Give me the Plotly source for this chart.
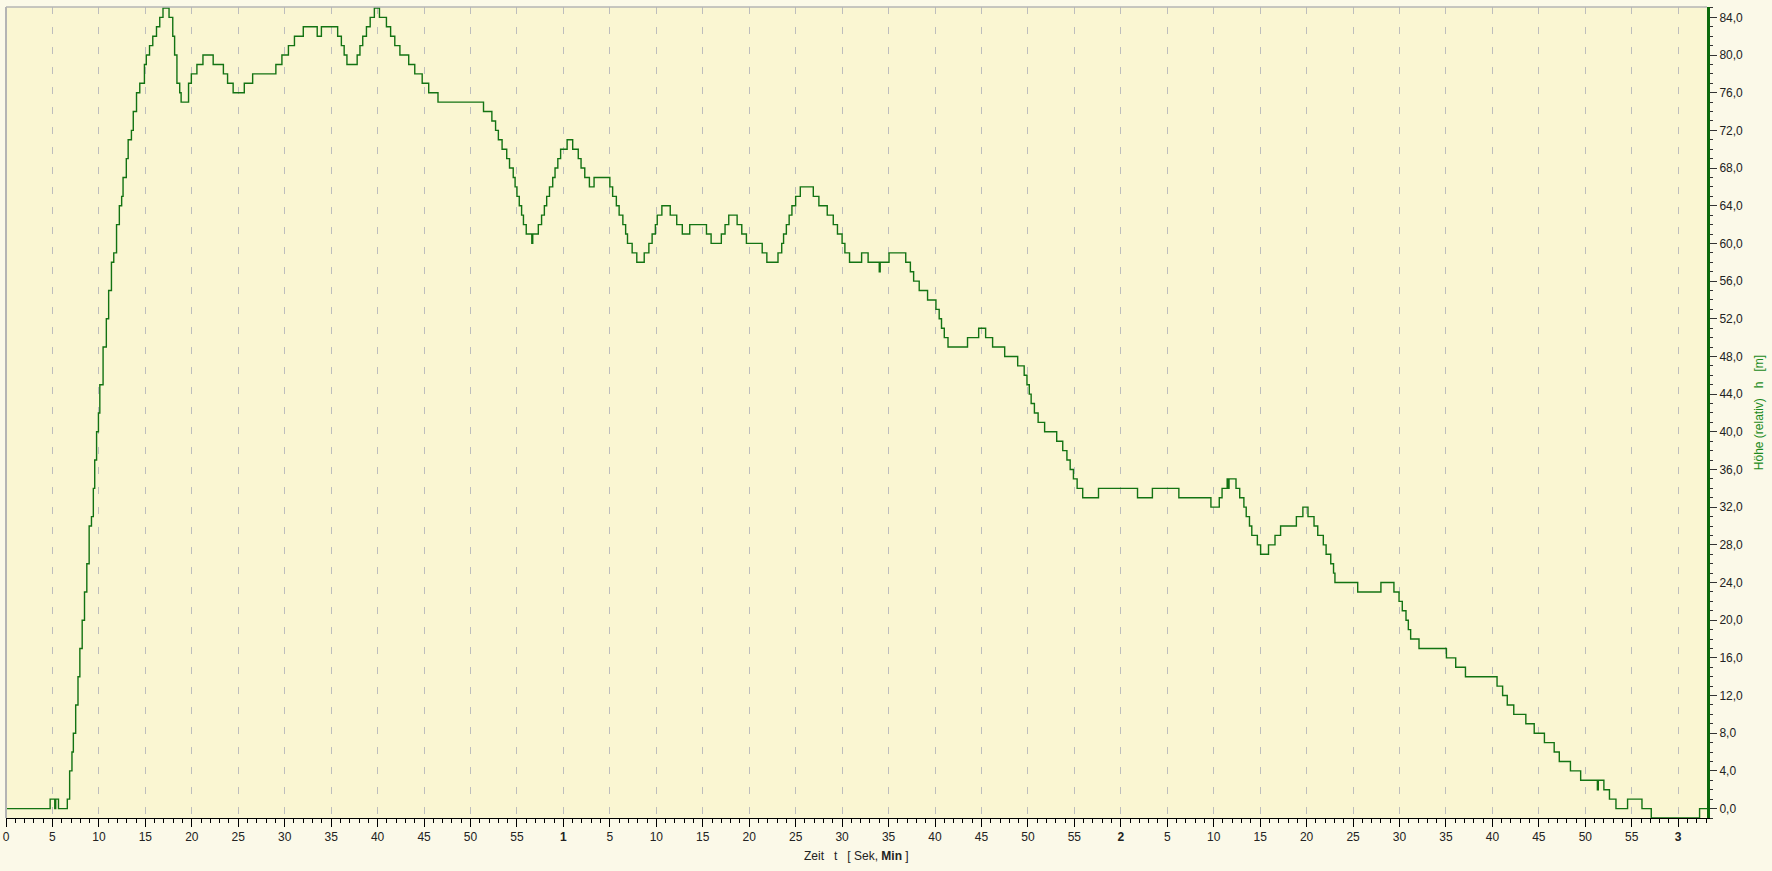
import plotly.graph_objects as go

# time (s) at which the height changes, and the new height (m)
t_sec = [0, 4.75, 5.25, 5.35, 5.65, 6.6, 6.85, 7.1, 7.25, 7.5, 7.75, 7.95, 8.2, 8.45, 8.7, 8.95,
         9.2, 9.4, 9.55, 9.75, 9.95, 10.1, 10.45, 10.8, 11.05, 11.35, 11.6, 11.9, 12.2, 12.45,
         12.6, 12.95, 13.15, 13.5, 13.7, 14.05, 14.4, 14.9, 15.1, 15.45, 15.8, 16.2, 16.55, 16.9,
         17.55, 17.95, 18.15, 18.4, 18.7, 18.85, 19.65, 19.95, 20.55, 21.2, 22.3, 23.4, 23.85,
         24.45, 25.65, 26.55, 29.05, 29.7, 30.4, 31.05, 32.0, 33.5, 33.95, 35.7, 36.1, 36.4,
         36.7, 37.8, 38.1, 38.4, 38.8, 39.2, 39.65, 40.2, 40.95, 41.4, 41.85, 42.4, 43.35, 44.0,
         44.8, 45.5, 46.5, 51.4, 52.3, 52.7, 53.0, 53.4, 53.9, 54.2, 54.6, 54.8, 55.0, 55.25,
         55.5, 55.7, 56.0, 56.6, 56.7, 57.3, 57.65, 57.95, 58.2, 58.5, 58.85, 59.1, 59.4, 59.7,
         60.4, 61.0, 61.6, 61.9, 62.3, 62.8, 63.3, 65.0, 65.3, 65.7, 66.0, 66.4, 66.7, 66.9,
         67.4, 67.9, 68.7, 69.2, 69.55, 69.9, 70.1, 70.6, 71.5, 72.2, 72.8, 73.6, 75.4, 75.9,
         77.0, 77.4, 77.8, 78.7, 79.2, 79.7, 81.4, 81.9, 83.1, 83.5, 83.7, 84.0, 84.3, 84.6,
         85.0, 85.5, 86.9, 87.5, 88.4, 89.05, 89.5, 90.0, 90.3, 90.8, 92.1, 92.8, 94.0, 94.1,
         95.05, 96.85, 97.35, 97.7, 98.3, 99.2, 100.1, 100.45, 100.7, 101.0, 101.4, 103.5,
         104.7, 105.45, 106.2, 107.5, 108.9, 109.6, 109.9, 110.15, 110.35, 110.7, 111.1, 111.8,
         113.1, 113.75, 114.2, 114.55, 114.9, 115.3, 115.9, 117.6, 121.8, 123.4, 126.25, 129.7,
         130.6, 130.9, 131.45, 131.55, 131.65, 132.4, 132.8, 133.25, 133.5, 133.85, 134.1,
         134.7, 135.05, 135.9, 136.6, 137.2, 138.9, 139.6, 140.15, 140.8, 141.2, 141.8, 142.1,
         142.6, 142.9, 143.05, 145.5, 148.0, 149.4, 149.95, 150.3, 150.7, 150.95, 151.2, 152.1,
         155.05, 156.05, 157.1, 160.5, 161.1, 161.6, 162.3, 163.6, 164.5, 165.6, 166.65, 167.2,
         168.4, 169.5, 171.3, 171.4, 172.0, 172.6, 173.3, 174.55, 176.1, 177.1, 182.3, 183.1]
h_m = [0, 1, 0, 1, 0, 1, 4, 6, 8, 11, 14, 17, 20, 23, 26, 30,
       31, 34, 37, 40, 42, 45, 49, 52, 55, 58, 59, 62, 64, 65,
       67, 69, 71, 72, 74, 76, 77, 79, 80, 81, 82, 83, 84, 85,
       84, 82, 80, 77, 76, 75, 77, 78, 79, 80, 79, 78, 77,
       76, 77, 78, 79, 80, 81, 82, 83, 82, 83, 82, 81, 80,
       79, 80, 81, 82, 83, 84, 85, 84, 83, 82, 81, 80, 79, 78,
       77, 76, 75, 74, 73, 72, 71, 70, 69, 68, 67, 66, 65, 64,
       63, 62, 61, 60, 61, 62, 63, 64, 65, 66, 67, 68, 69, 70,
       71, 70, 69, 68, 67, 66, 67, 66, 65, 64, 63, 62, 61, 60,
       59, 58, 59, 60, 61, 62, 63, 64, 63, 62, 61, 62, 61, 60,
       61, 62, 63, 62, 61, 60, 59, 58, 59, 60, 61, 62, 63, 64,
       65, 66, 65, 64, 63, 62, 61, 60, 59, 58, 59, 58, 57, 58,
       59, 58, 57, 56, 55, 54, 53, 52, 51, 50, 49, 50,
       51, 50, 49, 48, 47, 46, 45, 44, 43, 42, 41, 40,
       39, 38, 37, 36, 35, 34, 33, 34, 33, 34, 33, 32,
       33, 34, 35, 34, 35, 34, 33, 32, 31, 30, 29,
       28, 27, 28, 29, 30, 31, 32, 31, 30, 29, 28, 27,
       26, 25, 24, 23, 24, 23, 22, 21, 20, 19, 18, 17,
       16, 15, 14, 13, 12, 11, 10, 9, 8, 7, 6, 5,
       4, 3, 2, 3, 2, 1, 0, 1, 0, -1, 0, 0]

x_tickvals = list(range(0, 181, 5))
x_ticktext = ["<b>%d</b>" % (v // 60) if v % 60 == 0 and v > 0 else str(v % 60) for v in x_tickvals]
y_tickvals = list(range(0, 85, 4))

fig = go.Figure()
fig.add_trace(go.Scatter(x=t_sec, y=h_m, mode="lines", line=dict(color="#137313", width=1.4, shape="hv"),
                         hoverinfo="skip", showlegend=False))

fig.update_layout(
    width=1772, height=871,
    margin=dict(l=6, r=65, t=7, b=53, autoexpand=False),
    paper_bgcolor="#FBF9E8",
    plot_bgcolor="#FAF6D2",
    separators=",.",
    font=dict(family="Liberation Sans, Arial, sans-serif", size=12, color="#222222"),
    xaxis=dict(
        range=[0, 183.1], tickmode="array", tickvals=x_tickvals, ticktext=x_ticktext,
        showgrid=True, gridcolor="#BDBDBD", gridwidth=1, griddash="7px,13px",
        showline=True, linecolor="#000000", linewidth=1, layer="below traces",
        ticks="outside", ticklen=8, tickcolor="#000000", tickwidth=1,
        minor=dict(tickmode="linear", tick0=0, dtick=1, ticks="outside", ticklen=4,
                   tickcolor="#000000", showgrid=False),
        zeroline=False, fixedrange=True, automargin=False,
        tickfont=dict(size=12, color="#222222"),
    ),
    yaxis=dict(
        range=[-1.0, 85.1], side="right", tickmode="array", tickvals=y_tickvals,
        tickformat=".1f", showgrid=False, zeroline=False, automargin=False, fixedrange=True,
        showline=True, linecolor="#0B6B0B", linewidth=3, layer="below traces",
        ticks="outside", ticklen=7, tickcolor="#333333", tickwidth=1,
        minor=dict(tickmode="linear", tick0=0, dtick=1, ticks="outside", ticklen=3,
                   tickcolor="#333333", showgrid=False),
        tickfont=dict(size=12, color="#222222"),
        title=dict(text="Höhe (relativ)\u00a0\u00a0 h \u00a0\u00a0[m]", font=dict(size=12, color="#1A8A1A"), standoff=13),
    ),
    shapes=[
        dict(type="line", xref="paper", yref="paper", x0=0, x1=0, y0=0, y1=1,
             line=dict(color="#B4B4B4", width=2), layer="above"),
        dict(type="line", xref="paper", yref="paper", x0=0, x1=1, y0=1, y1=1,
             line=dict(color="#B4B4B4", width=1.5), layer="above"),
    ],
    annotations=[
        dict(text="Zeit\u00a0\u00a0 t\u00a0\u00a0 [ Sek, <b>Min</b> ]", xref="paper", yref="paper", x=0.5, y=0,
             yshift=-38, xanchor="center", yanchor="middle", showarrow=False,
             font=dict(size=12, color="#222222")),
    ],
)

fig.write_html("out.html", config={"displayModeBar": False},
               post_script="document.body.style.margin='0px';document.body.style.overflow='hidden';")
